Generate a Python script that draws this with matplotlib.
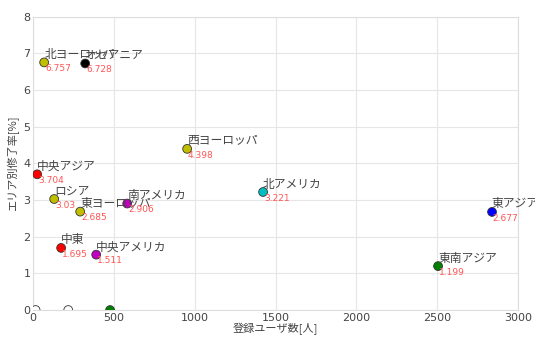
import numpy as np
import matplotlib
matplotlib.use('Agg')
from matplotlib import pyplot as plt

plt.rcParams['font.family'] = ['Noto Sans CJK JP', 'DejaVu Sans']

# regions with a completion rate
areas = ['北ヨーロッパ', 'オセアニア', '西ヨーロッパ', '中央アジア', 'ロシア', '東ヨーロッパ',
         '南アメリカ', '北アメリカ', '東アジア', '東南アジア', '中東', '中央アメリカ']
users = [68, 322, 953, 25, 130, 291, 582, 1423, 2840, 2506, 173, 390]
rates = [6.757, 6.728, 4.398, 3.704, 3.03, 2.685, 2.906, 3.221, 2.677, 1.199, 1.695, 1.511]
colors = ['y', 'k', 'y', 'r', 'y', 'y', 'm', 'c', 'b', 'g', 'r', 'm']

# regions with zero rate (no label)
zeroUsers = [15, 217, 476]
zeroRates = [0, 0, 0]
zeroColors = ['w', 'w', 'g']

fig = plt.figure(figsize=(5.35, 3.37), dpi=100)
ax = fig.add_axes([0.062, 0.08, 0.906, 0.87])

ax.scatter(zeroUsers, zeroRates, c=zeroColors, s=40, edgecolors='#333333', linewidths=0.6, zorder=3)
ax.scatter(users, rates, c=colors, s=40, edgecolors='#333333', linewidths=0.6, zorder=3)

for x, y, name in zip(users, rates, areas):
    ax.text(x, y + 0.04, name, fontsize=8.5, color='#444444', ha='left', va='bottom', zorder=4)
    ax.text(x + 5, y - 0.05, str(y), fontsize=6.5, color='#ff5555', ha='left', va='top',
            family='DejaVu Sans', zorder=4)

ax.set_xlim(0, 3000)
ax.set_ylim(0, 8)
ax.set_xticks(np.arange(0, 3001, 500))
ax.set_yticks(np.arange(0, 9, 1))
ax.grid(True, color='#e6e6e6', linewidth=0.8)
ax.set_axisbelow(True)
for s in ax.spines.values():
    s.set_color('#dddddd')
ax.tick_params(length=0, labelsize=8, colors='#444444', pad=2)
for lbl in ax.get_xticklabels() + ax.get_yticklabels():
    lbl.set_family('DejaVu Sans')
ax.set_xlabel('登録ユーザ数[人]', fontsize=8, color='#444444', labelpad=0)
ax.set_ylabel('エリア別修了率[%]', fontsize=8, color='#444444', labelpad=3)

fig.savefig('out.png', dpi=100)
